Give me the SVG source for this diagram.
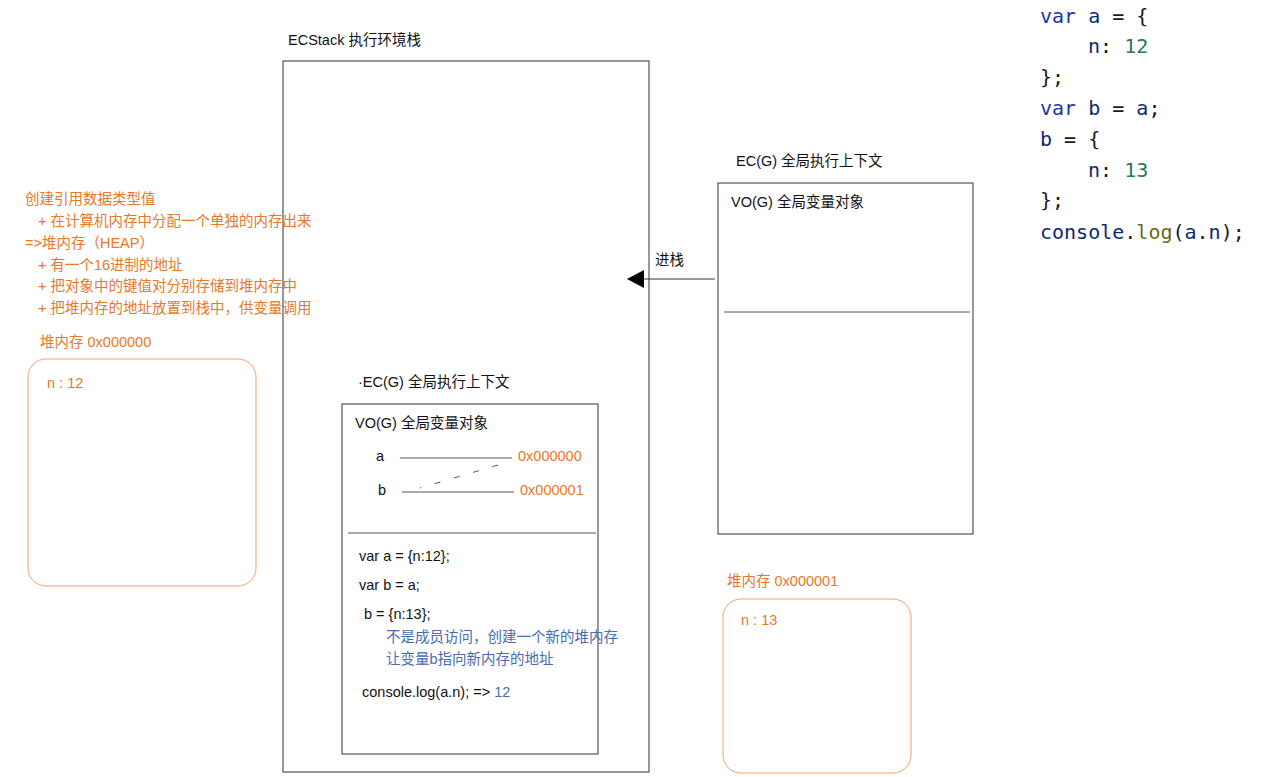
<svg xmlns="http://www.w3.org/2000/svg" width="1268" height="777" viewBox="0 0 1268 777" xml:space="preserve">
<style>
text{font-family:"Liberation Sans","Noto Sans CJK SC",sans-serif;font-size:14.5px;fill:#111}
.o{fill:#e8782a}
.bl{fill:#4a6bb0}
.box{fill:none;stroke:#333;stroke-width:1}
.obox{fill:none;stroke:#f0a070;stroke-width:1}
.ln{stroke:#555;stroke-width:1}
.code{font-family:"DejaVu Sans Mono","Liberation Mono",monospace;font-size:20px;fill:#1a1a1a}
.kw{fill:#1a35a8}.id{fill:#0d2a6e}.num{fill:#2a7a55}
</style>
<defs><marker id="ah" markerWidth="18" markerHeight="18" refX="16" refY="9" orient="auto" markerUnits="userSpaceOnUse"><path d="M0,0 L17,9 L0,18 Z" fill="#000"/></marker></defs>
<rect width="1268" height="777" fill="#fff"/>
<g id="stack">
<text x="288" y="45">ECStack 执行环境栈</text>
<rect class="box" x="283" y="61" width="366" height="711"/>
</g>
<g id="ecg-inner">
<text x="358" y="387">·EC(G)  全局执行上下文</text>
<rect class="box" x="342" y="404" width="256" height="350"/>
<text x="355" y="428">VO(G) 全局变量对象</text>
<text x="376" y="461">a</text>
<text x="378" y="495">b</text>
<text class="o" x="518" y="461">0x000000</text>
<text class="o" x="520" y="495">0x000001</text>
<line class="ln" x1="348" y1="533" x2="596" y2="533"/>
<text x="359" y="561">var  a = {n:12};</text>
<text x="359" y="590">var b = a;</text>
<text x="364" y="619">b = {n:13};</text>
<text class="bl" x="386" y="642">不是成员访问，创建一个新的堆内存</text>
<text class="bl" x="386" y="664">让变量b指向新内存的地址</text>
<text x="362" y="697">console.log(a.n);  =&gt; <tspan class="bl">12</tspan></text>
</g>
<g id="ecg-right">
<text x="736" y="166">EC(G)  全局执行上下文</text>
<rect class="box" x="718" y="183" width="255" height="351"/>
<text x="731" y="207">VO(G) 全局变量对象</text>
<line class="ln" x1="724" y1="312" x2="970" y2="312"/>
</g>
<g id="notes">
<text class="o" x="25" y="204">创建引用数据类型值</text>
<text class="o" x="38" y="226">+ 在计算机内存中分配一个单独的内存出来</text>
<text class="o" x="25" y="248">=&gt;堆内存（HEAP）</text>
<text class="o" x="38" y="270">+ 有一个16进制的地址</text>
<text class="o" x="38" y="291">+ 把对象中的键值对分别存储到堆内存中</text>
<text class="o" x="38" y="313">+ 把堆内存的地址放置到栈中，供变量调用</text>
</g>
<g id="heap0">
<text class="o" x="40" y="347">堆内存  0x000000</text>
<rect class="obox" x="28" y="359" width="228" height="227" rx="18"/>
<text class="o" x="47" y="388">n : 12</text>
</g>
<g id="heap1">
<text class="o" x="727" y="586">堆内存  0x000001</text>
<rect class="obox" x="723" y="599" width="188" height="174" rx="18"/>
<text class="o" x="741" y="625">n : 13</text>
</g>
<g id="code">
<text class="code" x="1040" y="23"><tspan class="kw">var</tspan> <tspan class="id">a</tspan> = {</text>
<text class="code" x="1088" y="53"><tspan class="id">n</tspan>: <tspan class="num">12</tspan></text>
<text class="code" x="1040" y="84">};</text>
<text class="code" x="1040" y="115"><tspan class="kw">var</tspan> <tspan class="id">b</tspan> = <tspan class="id">a</tspan>;</text>
<text class="code" x="1040" y="146"><tspan class="id">b</tspan> = {</text>
<text class="code" x="1088" y="177"><tspan class="id">n</tspan>: <tspan class="num">13</tspan></text>
<text class="code" x="1040" y="207">};</text>
<text class="code" x="1040" y="239"><tspan class="id">console</tspan>.<tspan fill="#6b6b1a">log</tspan>(<tspan class="id">a</tspan>.<tspan class="id">n</tspan>);</text>
</g>
<g id="connectors">
<line class="ln" x1="400" y1="458" x2="512" y2="458"/>
<line class="ln" x1="402" y1="492" x2="514" y2="492"/>
<line class="ln" x1="498" y1="465" x2="420" y2="488" stroke-dasharray="6,14"/>
<line x1="715" y1="279" x2="628" y2="279" stroke="#333" stroke-width="1" marker-end="url(#ah)"/>
<text x="655" y="265">进栈</text>
</g>
</svg>
